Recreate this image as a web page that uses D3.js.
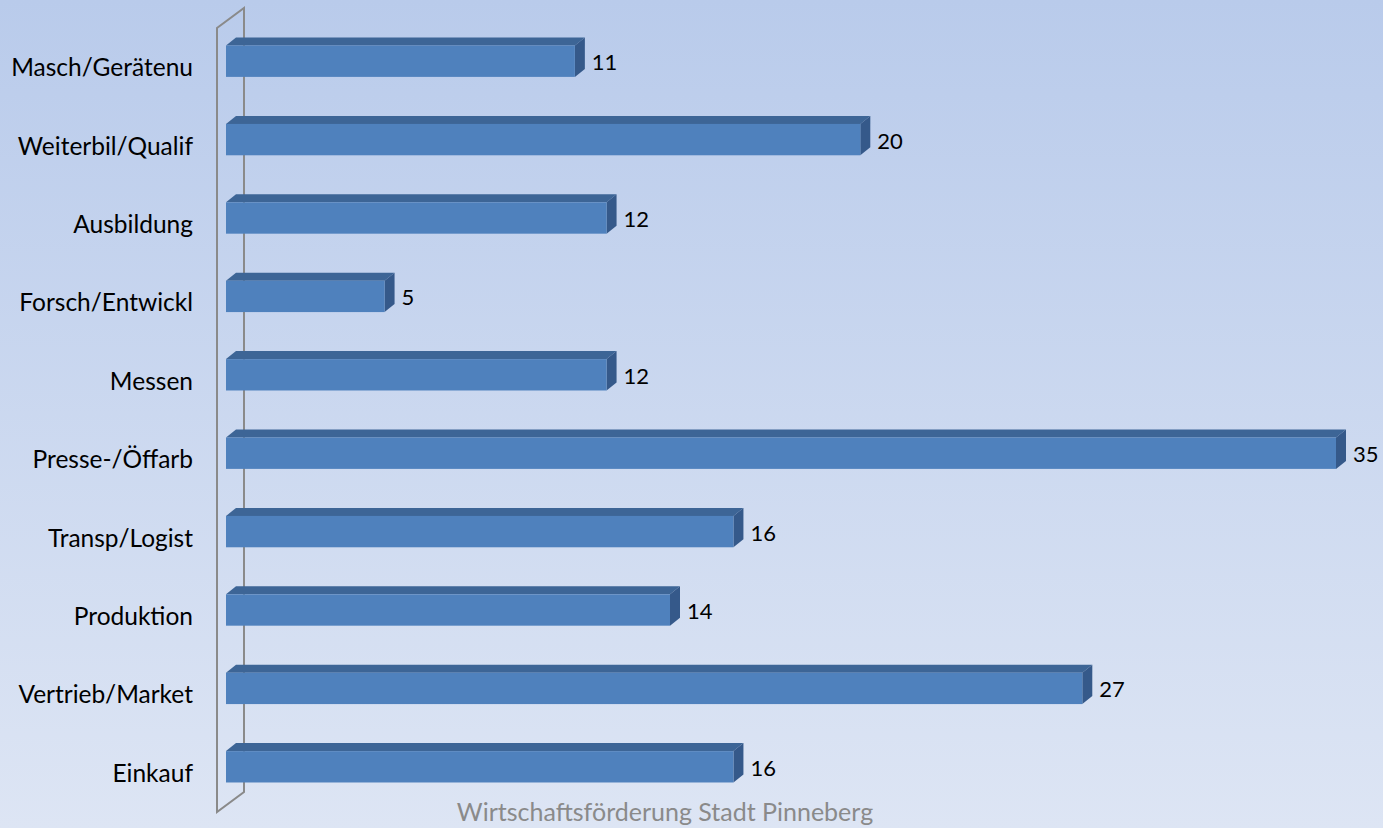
<!DOCTYPE html>
<html>
<head>
<meta charset="utf-8">
<script src="https://cdn.jsdelivr.net/npm/d3@7"></script>
<style>
  html, body { margin: 0; padding: 0; }
  body { width: 1383px; height: 828px; overflow: hidden; }
  svg { display: block; }
</style>
</head>
<body>
<svg id="chart" width="1383" height="828"></svg>
<script>
// Bereiche (von oben nach unten) und Anzahl der Nennungen
const categories = ["Masch/Gerätenu", "Weiterbil/Qualif", "Ausbildung", "Forsch/Entwickl", "Messen",
                    "Presse-/Öffarb", "Transp/Logist", "Produktion", "Vertrieb/Market", "Einkauf"];
const values = [11, 20, 12, 5, 12, 35, 16, 14, 27, 16];
const footerText = "Wirtschaftsförderung Stadt Pinneberg";

const W = 1383, H = 828;
const svg = d3.select("#chart");
const font = "Lato, 'Open Sans', sans-serif";

// Hintergrundverlauf
const defs = svg.append("defs");
const bg = defs.append("linearGradient").attr("id", "bg")
  .attr("x1", 0).attr("y1", 0).attr("x2", 0).attr("y2", 1);
bg.append("stop").attr("offset", "0%").attr("stop-color", "#b9cbeb");
bg.append("stop").attr("offset", "100%").attr("stop-color", "#dde5f4");
svg.append("rect").attr("width", W).attr("height", H).attr("fill", "url(#bg)");

// Skalen
const x = d3.scaleLinear().domain([0, 35]).range([226, 1336]);
const y = d3.scaleBand().domain(categories).range([22, 806]).paddingInner(0.6).paddingOuter(0.3);

// Seitenwand (3D-Rahmen)
const depthX = 27, depthY = -20;
const wallFront = 217;
svg.append("path")
  .attr("d", `M${wallFront},${812} L${wallFront},${28} L${wallFront + depthX},${28 + depthY} L${wallFront + depthX},${812 + depthY} Z`)
  .attr("fill", "none").attr("stroke", "#8a8a8a").attr("stroke-width", 2);

// 3D-Balken
const bdx = 10, bdy = -8;
const bars = svg.append("g").selectAll("g").data(categories).join("g");

bars.each(function(c, i) {
  const g = d3.select(this);
  const x0 = x(0), x1 = x(values[i]);
  const y0 = y(c), h = y.bandwidth();
  // Oberseite
  g.append("path")
    .attr("d", `M${x0},${y0} L${x0 + bdx},${y0 + bdy} L${x1 + bdx},${y0 + bdy} L${x1},${y0} Z`)
    .attr("fill", "#3d6596");
  // rechte Seite
  g.append("path")
    .attr("d", `M${x1},${y0} L${x1 + bdx},${y0 + bdy} L${x1 + bdx},${y0 + h + bdy} L${x1},${y0 + h} Z`)
    .attr("fill", "#35598a");
  // Vorderseite
  g.append("rect")
    .attr("x", x0).attr("y", y0).attr("width", x1 - x0).attr("height", h)
    .attr("fill", "#4f81bd");
  // Wertbeschriftung
  g.append("text")
    .attr("x", x1 + bdx + 7).attr("y", y0 + h / 2 + 9)
    .attr("font-family", font).attr("font-size", 22)
    .attr("fill", "#000")
    .text(values[i]);
});

// Kategorienbeschriftung
svg.append("g").selectAll("text").data(categories).join("text")
  .attr("x", 193)
  .attr("y", c => y(c) + y.bandwidth() / 2 + 15)
  .attr("text-anchor", "end")
  .attr("font-family", font).attr("font-size", 24.5)
  .attr("fill", "#000")
  .text(c => c);

// Fußzeile
svg.append("text")
  .attr("x", 665).attr("y", 815)
  .attr("text-anchor", "middle").attr("dominant-baseline", "middle")
  .attr("font-family", font).attr("font-size", 25)
  .attr("fill", "#8a8a8a")
  .text(footerText);
</script>
</body>
</html>
